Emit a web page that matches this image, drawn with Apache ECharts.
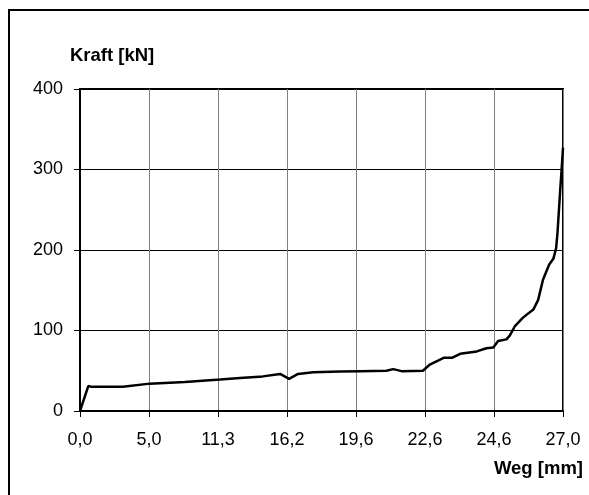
<!DOCTYPE html>
<html>
<head>
<meta charset="utf-8">
<script src="https://cdn.jsdelivr.net/npm/echarts@6/dist/echarts.min.js"></script>
<style>html,body{margin:0;padding:0;background:#fff;}#c{width:589px;height:495px;}</style>
</head>
<body>
<div id="c"></div>
<script>
// x positions are in category-slot units (0..7), matching the evenly spaced tick labels
var xTickLabels = ['0,0', '5,0', '11,3', '16,2', '19,6', '22,6', '24,6', '27,0'];
var yTickLabels = [0, 100, 200, 300, 400];
var xPos = [0.00, 0.12, 0.17, 0.62, 1.01, 1.52, 2.03, 2.32, 2.65, 2.90, 3.03, 3.16, 3.38, 3.77, 4.06, 4.44, 4.54, 4.66, 4.97, 5.07, 5.27, 5.39, 5.51, 5.75, 5.89, 5.99, 6.06, 6.18, 6.23, 6.30, 6.42, 6.57, 6.64, 6.71, 6.80, 6.86, 6.90, 6.92, 6.96, 6.98, 7.00];
var kraft = [0, 31, 30, 30, 34, 36, 39, 41, 43, 46, 40, 46, 48, 49, 49.5, 50, 52, 49.5, 50, 57.7, 66, 66, 71, 74, 78, 79, 87, 89, 94, 105, 116, 126, 138, 163, 182, 189, 202, 221, 275, 300, 327];

var data = xPos.map(function (x, i) { return [x, kraft[i]]; });
var chart = echarts.init(document.getElementById('c'), null, { renderer: 'canvas' });
var font = 'Liberation Sans, Arial, sans-serif';
chart.setOption({
  animation: false,
  backgroundColor: '#fff',
  grid: { left: 80, top: 89, width: 483, height: 322, show: true, borderColor: '#000', borderWidth: 2, backgroundColor: 'transparent' },
  xAxis: {
    type: 'value', min: 0, max: 7, interval: 1,
    axisLine: { show: true, onZero: false, lineStyle: { color: '#000', width: 2 } },
    axisTick: { show: true, length: 6, lineStyle: { color: '#000', width: 1 } },
    axisLabel: { color: '#000', fontSize: 18, fontFamily: font, margin: 20,
      formatter: function (v) { return xTickLabels[Math.round(v)]; } },
    splitLine: { show: true, lineStyle: { color: '#808080', width: 1 } }
  },
  yAxis: {
    type: 'value', min: yTickLabels[0], max: yTickLabels[yTickLabels.length - 1], interval: 100,
    axisLine: { show: true, lineStyle: { color: '#000', width: 2 } },
    axisTick: { show: true, length: 6, lineStyle: { color: '#000', width: 1 } },
    axisLabel: { color: '#000', fontSize: 18, fontFamily: font, margin: 17 },
    splitLine: { show: true, lineStyle: { color: '#000', width: 1 } }
  },
  series: [{
    type: 'line', data: data, showSymbol: false, symbol: 'none',
    lineStyle: { color: '#000', width: 2.5 }, z: 5
  }],
  graphic: [
    { type: 'rect', shape: { x: 9, y: 10, width: 620, height: 520 }, style: { fill: 'none', stroke: '#000', lineWidth: 2 }, silent: true },
    { type: 'text', left: 70, top: 46, style: { text: 'Kraft [kN]', font: 'bold 18.5px ' + font, fill: '#000' } },
    { type: 'text', right: 6, top: 459, style: { text: 'Weg [mm]', font: 'bold 18.5px ' + font, fill: '#000' } }
  ]
});
</script>
</body>
</html>
